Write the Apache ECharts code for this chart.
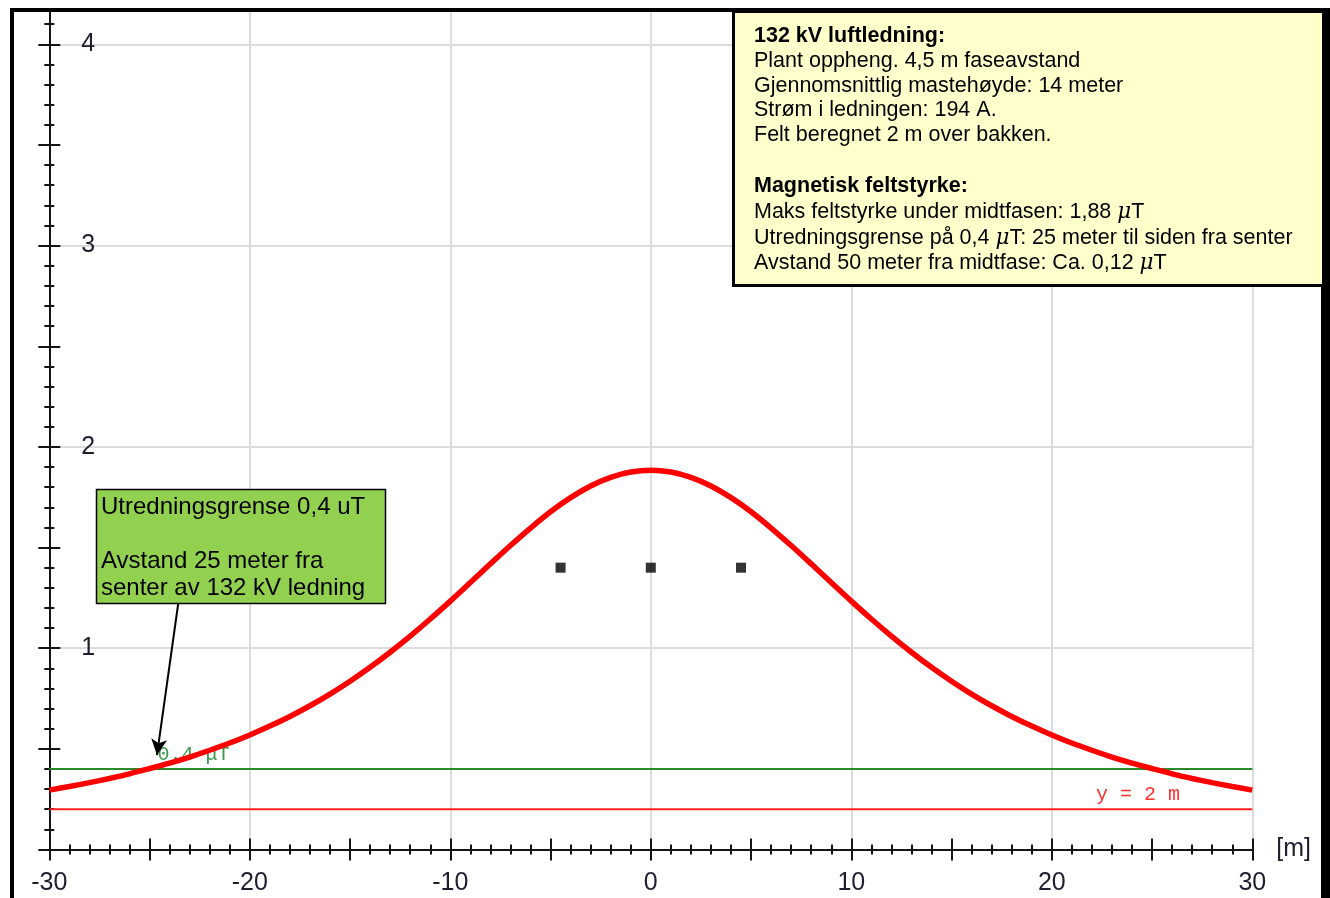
<!DOCTYPE html>
<html><head><meta charset="utf-8">
<script src="https://cdn.jsdelivr.net/npm/echarts@6/dist/echarts.min.js"></script>
<style>html,body{margin:0;padding:0;background:#fff}#c{width:1330px;height:898px}</style>
</head><body><div id="c"></div>
<script>
// Horizontal distance from centre line [m]
const xPositions = [-30,-29,-28,-27,-26,-25,-24,-23,-22,-21,-20,-19,-18,-17,-16,-15,-14,-13,-12,-11,-10,-9,-8,-7,-6,-5,-4,-3,-2,-1,0,1,2,3,4,5,6,7,8,9,10,11,12,13,14,15,16,17,18,19,20,21,22,23,24,25,26,27,28,29,30];
// Magnetic field strength [uT]
const fieldStrength = [0.295,0.313,0.332,0.353,0.376,0.402,0.429,0.459,0.493,0.529,0.569,0.613,0.661,0.714,0.772,0.836,0.905,0.980,1.060,1.145,1.234,1.326,1.419,1.510,1.597,1.678,1.748,1.806,1.849,1.875,1.884,1.875,1.849,1.806,1.748,1.678,1.597,1.510,1.419,1.326,1.234,1.145,1.060,0.980,0.905,0.836,0.772,0.714,0.661,0.613,0.569,0.529,0.493,0.459,0.429,0.402,0.376,0.353,0.332,0.313,0.295];
// Phase conductors (x [m], height/10)
const conductorX = [-4.5, 0, 4.5];
const conductorY = [1.4, 1.4, 1.4];
// Reference lines
const limitLevel = 0.4;
const groundLevel = 0.2;
const xRange = [-30, 30];
const yTickLabels = [1, 2, 3, 4];
// Annotation anchors (data coords)
const limitLabelAt = [-24.6, 0.469];
const groundLabelAt = [22.2, 0.271];
const arrowFrom = [-23.57, 1.222];
const arrowTo = [-24.63, 0.469];

const infoLines = [
  [{t:'132 kV luftledning:', s:'b'}],
  [{t:'Plant oppheng. 4,5 m faseavstand'}],
  [{t:'Gjennomsnittlig mastehøyde: 14 meter'}],
  [{t:'Strøm i ledningen: 194 A.'}],
  [{t:'Felt beregnet 2 m over bakken.'}],
  null,
  [{t:'Magnetisk feltstyrke:', s:'b'}],
  [{t:'Maks feltstyrke under midtfasen: 1,88 '},{t:'μ',s:'mu'},{t:'T'}],
  [{t:'Utredningsgrense på 0,4 '},{t:'μ',s:'mu'},{t:'T: 25 meter til siden fra senter'}],
  [{t:'Avstand 50 meter fra midtfase: Ca. 0,12 '},{t:'μ',s:'mu'},{t:'T'}]
];
const noteLines = ['Utredningsgrense 0,4 uT', '', 'Avstand 25 meter fra', 'senter av 132 kV ledning'];

const FONT = "'Liberation Sans', Arial, sans-serif";
const MONO = "'Liberation Mono', 'Courier New', monospace";
const tickColor = '#151515';

function xAx(interval, extra) {
  return Object.assign({
    type: 'value', min: xRange[0], max: xRange[1], interval: interval, position: 'bottom',
    axisLine: {show: false, onZero: false}, axisLabel: {show: false}, splitLine: {show: false}, axisTick: {show: false}
  }, extra);
}
function yAx(interval, extra) {
  return Object.assign({
    type: 'value', min: 0, max: 4.2, interval: interval, position: 'left',
    axisLine: {show: false, onZero: false}, axisLabel: {show: false}, splitLine: {show: false}, axisTick: {show: false}
  }, extra);
}
function tick(len, inside) {
  return {show: true, inside: inside, length: len, lineStyle: {color: tickColor, width: 2}};
}

const chart = echarts.init(document.getElementById('c'));
const option = {
  animation: false,
  backgroundColor: '#fff',
  grid: {left: 49.3, right: 77.7, top: 4.04, bottom: 48.5},
  xAxis: [
    xAx(10, {
      axisLine: {show: true, onZero: false, lineStyle: {color: tickColor, width: 2}},
      axisLabel: {show: true, fontSize: 25, fontFamily: FONT, color: '#1e1e30', margin: 21},
      splitLine: {show: true, lineStyle: {color: '#dcdcdc', width: 2}},
      name: '[m]', nameLocation: 'end', nameGap: 24,
      nameTextStyle: {fontSize: 25, fontFamily: FONT, color: '#1e1e30', verticalAlign: 'middle'}
    }),
    xAx(5, {axisTick: tick(11, false)}),
    xAx(5, {axisTick: tick(11, true)}),
    xAx(1, {axisTick: tick(5, false)}),
    xAx(1, {axisTick: tick(5, true)})
  ],
  yAxis: [
    yAx(1, {
      axisLine: {show: true, onZero: false, lineStyle: {color: tickColor, width: 2}},
      axisLabel: {show: true, inside: true, margin: 32, fontSize: 25, fontFamily: FONT, color: '#1e1e30',
        formatter: function (v) { return yTickLabels.indexOf(v) >= 0 ? String(v) : ''; }},
      splitLine: {show: true, lineStyle: {color: '#dcdcdc', width: 2}}
    }),
    yAx(0.5, {axisTick: tick(11, false)}),
    yAx(0.5, {axisTick: tick(11, true)}),
    yAx(0.1, {axisTick: tick(5, false)}),
    yAx(0.1, {axisTick: tick(5, true)})
  ],
  series: [
    {
      type: 'line', name: 'limit', z: 3, silent: true, showSymbol: false,
      data: [[xRange[0], limitLevel], [xRange[1], limitLevel]],
      lineStyle: {color: '#2a8a2a', width: 2}
    },
    {
      type: 'line', name: 'ground', z: 3, silent: true, showSymbol: false,
      data: [[xRange[0], groundLevel], [xRange[1], groundLevel]],
      lineStyle: {color: '#ff2020', width: 2}
    },
    {
      type: 'line', name: 'field', z: 5, silent: true, showSymbol: false, smooth: 0.3,
      data: xPositions.map(function (x, i) { return [x, fieldStrength[i]]; }),
      lineStyle: {color: '#ff0000', width: 5.5}
    },
    {
      type: 'scatter', name: 'conductors', z: 6, silent: true, symbol: 'rect', symbolSize: 10,
      itemStyle: {color: '#000'},
      data: conductorX.map(function (x, i) { return [x, conductorY[i]]; }),
      markLine: {
        silent: true, animation: false, z: 8,
        symbol: ['none', 'arrow'], symbolSize: [12, 16],
        lineStyle: {color: '#000', width: 2, type: 'solid'},
        label: {show: false},
        data: [[{coord: arrowFrom}, {coord: arrowTo}]]
      }
    }
  ]
};
chart.setOption(option);

const pLimit = chart.convertToPixel({gridIndex: 0}, limitLabelAt);
const pGround = chart.convertToPixel({gridIndex: 0}, groundLabelAt);

const graphics = [
  {type: 'text', z: 1, x: pLimit[0], y: pLimit[1], style: {text: '0.4 μT', font: '20px ' + MONO, fill: '#3a9a4a', align: 'left', verticalAlign: 'middle'}},
  {type: 'text', z: 1, x: pGround[0], y: pGround[1], style: {text: 'y = 2 m', font: '20px ' + MONO, fill: '#ff3030', align: 'left', verticalAlign: 'middle'}},
  // frame
  {type: 'rect', z: 100, shape: {x: 0, y: 0, width: 1330, height: 8}, style: {fill: '#fff'}},
  {type: 'rect', z: 100, shape: {x: 10, y: 8, width: 4, height: 890}, style: {fill: '#000'}},
  {type: 'rect', z: 100, shape: {x: 10, y: 8, width: 1320, height: 4}, style: {fill: '#000'}},
  {type: 'rect', z: 100, shape: {x: 1321, y: 8, width: 9, height: 890}, style: {fill: '#000'}},
  // info box
  {type: 'rect', z: 101, shape: {x: 733.5, y: 11.5, width: 590, height: 274}, style: {fill: '#ffffcc', stroke: '#000', lineWidth: 3}},
  // note box
  {type: 'rect', z: 101, shape: {x: 96.5, y: 489.5, width: 289, height: 114}, style: {fill: '#92d050', stroke: '#000', lineWidth: 1.5}}
];
const infoY = [36, 61, 86, 110.5, 135, 160, 186, 212, 238, 263];
infoLines.forEach(function (line, i) {
  if (!line) return;
  let txt = line.map(function (p) { return p.s ? '{' + p.s + '|' + p.t + '}' : '{n|' + p.t + '}'; }).join('');
  graphics.push({type: 'text', z: 102, x: 754, y: infoY[i], style: {
    text: txt, verticalAlign: 'middle', align: 'left', fill: '#000',
    rich: {
      n: {fontSize: 21.5, fontFamily: FONT, fill: '#000'},
      b: {fontSize: 21.5, fontFamily: FONT, fontWeight: 'bold', fill: '#000'},
      mu: {fontSize: 21.5, fontFamily: "'DejaVu Serif', 'Liberation Serif', serif", fontStyle: 'italic', fill: '#000'}
    }
  }});
});
const noteY = [507, 534, 561, 588];
noteLines.forEach(function (t, i) {
  if (!t) return;
  graphics.push({type: 'text', z: 102, x: 101, y: noteY[i], style: {text: t, font: '24px ' + FONT, fill: '#000', verticalAlign: 'middle', align: 'left'}});
});
chart.setOption({graphic: {elements: graphics}});
</script>
</body></html>
